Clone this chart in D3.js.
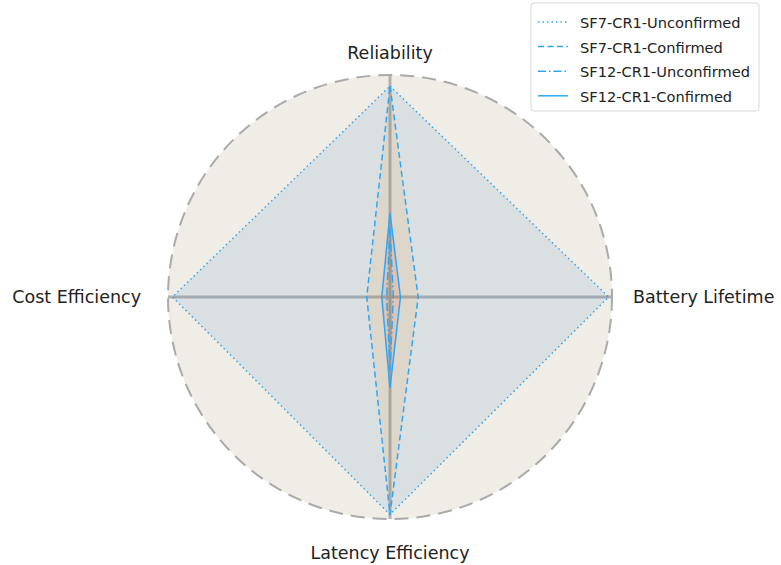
<!DOCTYPE html>
<html>
<head>
<meta charset="utf-8">
<script src="https://cdn.jsdelivr.net/npm/d3@7"></script>
<style>
  body { margin: 0; background: #fff; }
  text { font-family: "DejaVu Sans", sans-serif; fill: #222; }
</style>
</head>
<body>
<div id="radar"></div>
<script>
// axes, clockwise from the top
var axes = ["Reliability", "Battery Lifetime", "Latency Efficiency", "Cost Efficiency"];

// series names and values (normalised, 0..1)
var seriesNames = ["SF7-CR1-Unconfirmed", "SF7-CR1-Confirmed", "SF12-CR1-Unconfirmed", "SF12-CR1-Confirmed"];
var sf7Unconfirmed = [0.95, 0.985, 0.98, 0.98];
var sf7Confirmed = [0.95, 0.127, 0.98, 0.105];
var sf12Unconfirmed = [0.31, 0.015, 0.33, 0.015];
var sf12Confirmed = [0.378, 0.047, 0.41, 0.037];

var seriesValues = [sf7Unconfirmed, sf7Confirmed, sf12Unconfirmed, sf12Confirmed];
var fillColors = ["#1f77b4", "#ff7f0e", "#2ca02c", "#d62728"];
var dashes = ["1.5,3", "6,3.5", "8,3,1.5,3", null];
var lineColor = "#2ea6f5";

var width = 781, height = 565;
var cx = 390, cy = 297, R = 222;

var svg = d3.select("#radar")
  .append("svg")
    .attr("width", width)
    .attr("height", height);

var r = d3.scaleLinear().domain([0, 1]).range([0, R]);
var angle = d3.scaleLinear().domain([0, axes.length]).range([0, 2 * Math.PI]);

var g = svg.append("g")
  .attr("transform", "translate(" + cx + "," + cy + ")");

// background disc
g.append("circle")
  .attr("r", R)
  .attr("fill", "#f0ede7");

// spokes
g.selectAll("line.spoke")
  .data(axes)
  .enter()
  .append("line")
    .attr("class", "spoke")
    .attr("x1", 0).attr("y1", 0)
    .attr("x2", (d, i) => r(1) * Math.sin(angle(i)))
    .attr("y2", (d, i) => -r(1) * Math.cos(angle(i)))
    .attr("stroke", "#b0b0b0")
    .attr("stroke-width", 3);

var radarLine = d3.lineRadial()
  .angle((d, i) => angle(i))
  .radius(d => r(d))
  .curve(d3.curveLinearClosed);

// fills first, then outlines
g.selectAll("path.fill")
  .data(seriesValues)
  .enter()
  .append("path")
    .attr("class", "fill")
    .attr("d", radarLine)
    .attr("fill", (d, i) => fillColors[i])
    .attr("fill-opacity", 0.1)
    .attr("stroke", "none");

g.selectAll("path.outline")
  .data(seriesValues)
  .enter()
  .append("path")
    .attr("class", "outline")
    .attr("d", radarLine)
    .attr("fill", "none")
    .attr("stroke", lineColor)
    .attr("stroke-width", 1.5)
    .attr("stroke-dasharray", (d, i) => dashes[i]);

// dashed outer circle
g.append("circle")
  .attr("r", R)
  .attr("fill", "none")
  .attr("stroke", "#aaaaaa")
  .attr("stroke-width", 2)
  .attr("stroke-dasharray", "14,8");

// axis labels
var labelPos = [
  {x: 0, y: -R - 16, anchor: "middle"},
  {x: R + 21, y: 6, anchor: "start"},
  {x: 0, y: R + 40, anchor: "middle"},
  {x: -R - 27, y: 6, anchor: "end"}
];
g.selectAll("text.axis-label")
  .data(axes)
  .enter()
  .append("text")
    .attr("class", "axis-label")
    .attr("x", (d, i) => labelPos[i].x)
    .attr("y", (d, i) => labelPos[i].y)
    .attr("text-anchor", (d, i) => labelPos[i].anchor)
    .attr("font-size", 17.5)
    .text(d => d);

// legend
var legend = svg.append("g").attr("transform", "translate(531,3)");
legend.append("rect")
  .attr("width", 228).attr("height", 108)
  .attr("rx", 3)
  .attr("fill", "#fff")
  .attr("stroke", "#d8d8d8");

var items = legend.selectAll("g.item")
  .data(seriesNames)
  .enter()
  .append("g")
    .attr("class", "item")
    .attr("transform", (d, i) => "translate(0," + (19 + i * 24.6) + ")");

items.append("line")
  .attr("x1", 7).attr("x2", 37)
  .attr("stroke", lineColor)
  .attr("stroke-width", 1.5)
  .attr("stroke-dasharray", (d, i) => dashes[i]);

items.append("text")
  .attr("x", 49).attr("y", 6)
  .attr("font-size", 14.6)
  .text(d => d);
</script>
</body>
</html>
